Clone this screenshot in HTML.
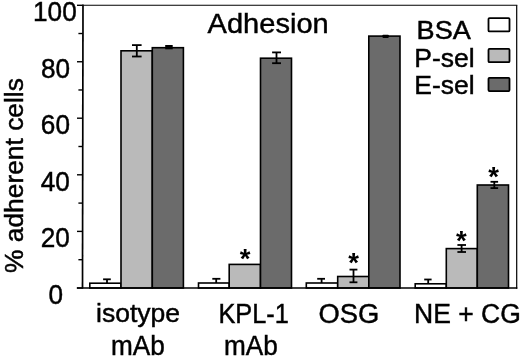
<!DOCTYPE html>
<html><head><meta charset="utf-8"><title>Adhesion</title>
<style>
html,body{margin:0;padding:0;background:#fff;}
body{width:520px;height:357px;overflow:hidden;}
svg{display:block;will-change:transform;}
text{font-family:"Liberation Sans",Arial,sans-serif;fill:#000;stroke:#000;stroke-width:0.45px;}
</style></head><body>
<svg width="520" height="357" viewBox="0 0 520 357">
<rect width="520" height="357" fill="#fff"/>

<g stroke="#000" fill="none">
<line x1="83.3" y1="5.3" x2="517.3" y2="5.3" stroke-width="1.1"/>
<line x1="516.7" y1="5.3" x2="516.7" y2="288.8" stroke-width="1.2"/>
<line x1="83.0" y1="4.6" x2="82.5" y2="288.6" stroke-width="1.7"/>
<line x1="77.0" y1="288.00" x2="82.8" y2="288.00" stroke-width="1.4"/>
<line x1="78.4" y1="259.70" x2="82.8" y2="259.70" stroke-width="1.4"/>
<line x1="77.0" y1="231.40" x2="82.8" y2="231.40" stroke-width="1.4"/>
<line x1="78.4" y1="203.10" x2="82.8" y2="203.10" stroke-width="1.4"/>
<line x1="77.0" y1="174.80" x2="82.8" y2="174.80" stroke-width="1.4"/>
<line x1="78.4" y1="146.50" x2="82.8" y2="146.50" stroke-width="1.4"/>
<line x1="77.0" y1="118.20" x2="82.8" y2="118.20" stroke-width="1.4"/>
<line x1="78.4" y1="89.97" x2="82.8" y2="89.97" stroke-width="1.4"/>
<line x1="77.0" y1="61.75" x2="82.8" y2="61.75" stroke-width="1.4"/>
<line x1="78.4" y1="33.52" x2="82.8" y2="33.52" stroke-width="1.4"/>
<line x1="77.0" y1="5.30" x2="82.8" y2="5.30" stroke-width="1.4"/>
</g>
<g stroke="#000" stroke-width="1.6">
<rect x="89.80" y="283.20" width="31.20" height="4.80" fill="#ffffff"/>
<rect x="121.00" y="50.80" width="31.30" height="237.20" fill="#bababa"/>
<rect x="152.30" y="47.70" width="31.10" height="240.30" fill="#6b6b6b"/>
<rect x="198.50" y="283.00" width="30.70" height="5.00" fill="#ffffff"/>
<rect x="229.20" y="264.40" width="31.30" height="23.60" fill="#bababa"/>
<rect x="260.50" y="58.20" width="31.00" height="229.80" fill="#6b6b6b"/>
<rect x="306.30" y="283.00" width="31.40" height="5.00" fill="#ffffff"/>
<rect x="337.70" y="276.50" width="31.10" height="11.50" fill="#bababa"/>
<rect x="368.80" y="36.10" width="31.20" height="251.90" fill="#6b6b6b"/>
<rect x="415.20" y="283.80" width="31.10" height="4.20" fill="#ffffff"/>
<rect x="446.30" y="248.60" width="31.00" height="39.40" fill="#bababa"/>
<rect x="477.30" y="185.00" width="31.20" height="103.00" fill="#6b6b6b"/>
</g>
<line x1="76.8" y1="288.00" x2="517.3" y2="288.00" stroke="#000" stroke-width="1.7"/>
<g stroke="#000" stroke-width="1.8" fill="none">
<line x1="107.0" y1="279.3" x2="107.0" y2="283.2"/><line x1="103.1" y1="279.3" x2="110.8" y2="279.3"/>
<line x1="136.8" y1="45.1" x2="136.8" y2="56.5"/><line x1="132.0" y1="45.1" x2="141.6" y2="45.1"/><line x1="132.0" y1="56.5" x2="141.6" y2="56.5"/>
<line x1="216.2" y1="278.8" x2="216.2" y2="283.0"/><line x1="212.3" y1="278.8" x2="220.4" y2="278.8"/>
<line x1="276.5" y1="52.4" x2="276.5" y2="63.2"/><line x1="272.1" y1="52.4" x2="281.0" y2="52.4"/><line x1="272.1" y1="63.2" x2="281.0" y2="63.2"/>
<line x1="321.6" y1="278.8" x2="321.6" y2="283.0"/><line x1="317.2" y1="278.8" x2="325.0" y2="278.8"/>
<line x1="353.5" y1="269.6" x2="353.5" y2="282.3"/><line x1="349.5" y1="269.6" x2="357.4" y2="269.6"/><line x1="349.5" y1="282.3" x2="357.4" y2="282.3"/>
<line x1="428.2" y1="279.5" x2="428.2" y2="283.5"/><line x1="424.2" y1="279.5" x2="431.6" y2="279.5"/>
<line x1="461.6" y1="245.0" x2="461.6" y2="252.0"/><line x1="457.4" y1="245.0" x2="466.0" y2="245.0"/><line x1="457.4" y1="252.0" x2="466.0" y2="252.0"/>
<line x1="494.3" y1="181.8" x2="494.3" y2="188.1"/><line x1="490.5" y1="181.8" x2="498.1" y2="181.8"/><line x1="490.5" y1="188.1" x2="498.1" y2="188.1"/>
</g>
<rect x="165.2" y="45.0" width="7.5" height="4.3" fill="#000"/>
<rect x="382.4" y="34.7" width="6.4" height="3.2" rx="0.8" fill="#000"/>
<g stroke="#000" stroke-width="1.8">
<rect x="488.5" y="18.1" width="21.0" height="13.3" rx="1" fill="#ffffff"/>
<rect x="488.5" y="48.9" width="21.0" height="13.3" rx="1" fill="#bababa"/>
<rect x="488.5" y="77.8" width="21.0" height="13.3" rx="1" fill="#6b6b6b"/>
</g>
<text transform="translate(54.90 20.50) scale(0.970 1)" font-size="27.00" text-anchor="middle">100</text>
<text transform="translate(55.50 77.60) scale(0.970 1)" font-size="27.00" text-anchor="middle">80</text>
<text transform="translate(55.40 134.00) scale(0.970 1)" font-size="27.00" text-anchor="middle">60</text>
<text transform="translate(55.20 190.50) scale(0.970 1)" font-size="27.00" text-anchor="middle">40</text>
<text transform="translate(55.20 247.00) scale(0.970 1)" font-size="27.00" text-anchor="middle">20</text>
<text transform="translate(55.90 304.00) scale(0.970 1)" font-size="27.00" text-anchor="middle">0</text>
<text transform="translate(207.60 33.30) scale(1.045 1)" font-size="27.80" text-anchor="start">Adhesion</text>
<text transform="translate(416.60 39.30) scale(1.060 1)" font-size="25.60" text-anchor="start">BSA</text>
<text transform="translate(414.30 66.80) scale(1.060 1)" font-size="25.00" text-anchor="start">P-sel</text>
<text transform="translate(414.30 94.30) scale(1.060 1)" font-size="25.00" text-anchor="start">E-sel</text>
<text transform="translate(138.00 322.40) scale(1.008 1)" font-size="26.30" text-anchor="middle">isotype</text>
<text transform="translate(137.80 354.70) scale(0.970 1)" font-size="27.00" text-anchor="middle">mAb</text>
<text transform="translate(253.60 322.50) scale(0.925 1)" font-size="27.40" text-anchor="middle">KPL-1</text>
<text transform="translate(250.80 354.70) scale(0.970 1)" font-size="27.00" text-anchor="middle">mAb</text>
<text transform="translate(348.90 322.80) scale(0.990 1)" font-size="27.60" text-anchor="middle">OSG</text>
<text transform="translate(414.00 322.50) scale(0.968 1)" font-size="27.40" text-anchor="start">NE + CG</text>
<text transform="translate(22.8 273.0) rotate(-90) scale(1.055 1.03)" font-size="25">% adherent cells</text>
<text x="245.2" y="268.0" font-size="27.5" font-weight="bold" text-anchor="middle" style="stroke-width:0">*</text>
<text x="353.6" y="271.9" font-size="27.5" font-weight="bold" text-anchor="middle" style="stroke-width:0">*</text>
<text x="461.3" y="249.6" font-size="27.5" font-weight="bold" text-anchor="middle" style="stroke-width:0">*</text>
<text x="493.6" y="185.9" font-size="27.5" font-weight="bold" text-anchor="middle" style="stroke-width:0">*</text>
</svg></body></html>
